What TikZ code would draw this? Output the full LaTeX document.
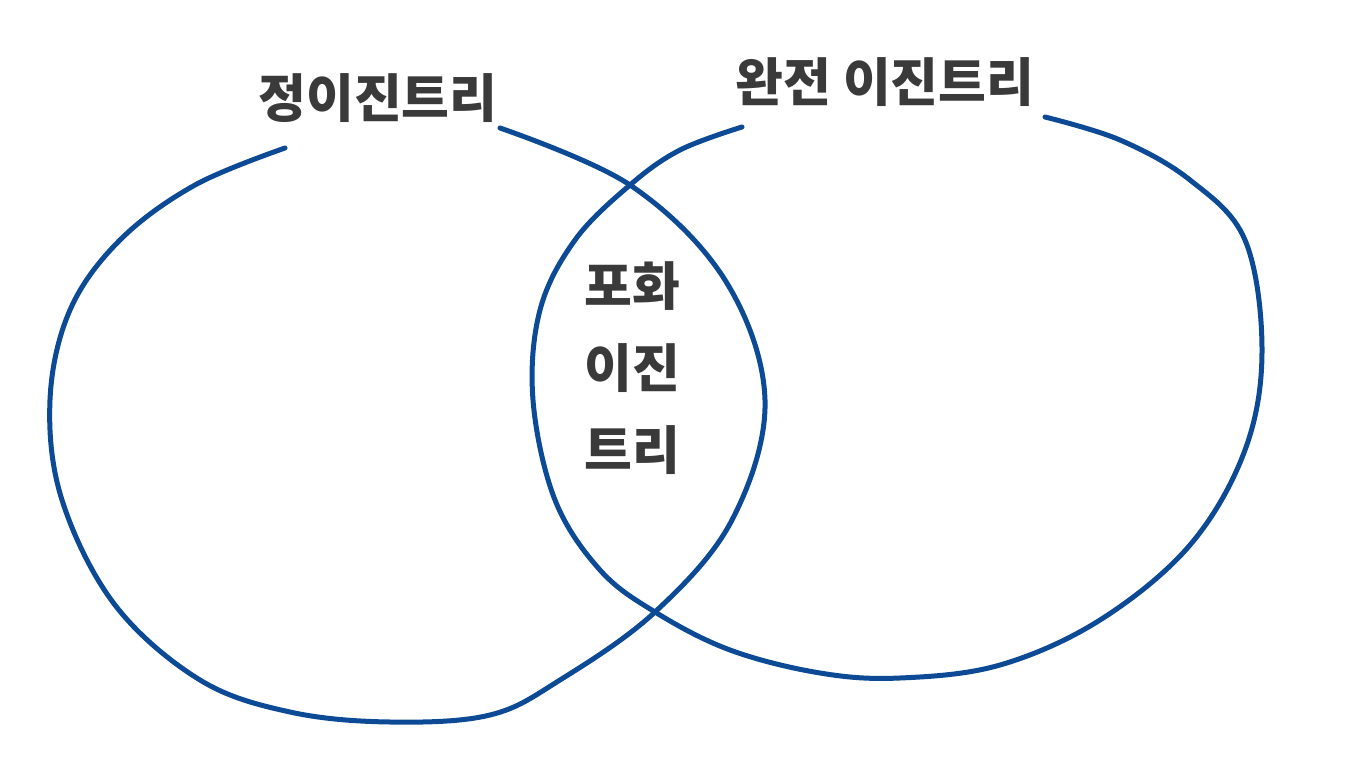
\documentclass[tikz,border=0pt]{standalone}
\usepackage{fontspec}
\newfontfamily\kr{Noto Sans CJK KR}
\definecolor{pen}{HTML}{0D4A96}
\definecolor{ink}{HTML}{3A3A3A}
\tikzset{
  loop/.style={draw=pen, line width=5pt, line cap=round, line join=round},
  lbl/.style={text=ink, font=\kr\bfseries\fontsize{52}{56}\selectfont, inner sep=0pt, align=center}
}
\begin{document}
\begin{tikzpicture}[x=1pt,y=-1pt]
\useasboundingbox[fill=white] (0,0) rectangle (1368,768);
\draw[loop] plot[smooth, tension=0.6] coordinates {(500,128) (630,185) (725,280) (765,400) (732,520) (655,612) (560,680) (490,715) (390,722) (290,712) (200,680) (115,605) (62,500) (50,400) (70,310) (120,240) (195,185) (285,148)};
\draw[loop] plot[smooth, tension=0.6] coordinates {(742,127) (680,150) (630,185) (575,240) (540,310) (533,400) (555,500) (600,570) (655,612) (730,650) (820,673) (900,678) (1000,665) (1100,620) (1190,545) (1245,450) (1262,350) (1245,240) (1190,180) (1120,140) (1045,117)};
\node[lbl] (left) at (378,98) {정이진트리};
\node[lbl] (right) at (885,82) {완전 이진트리};
\node[lbl, font=\kr\bfseries\fontsize{52}{82}\selectfont] (mid) at (632,368) {포화\\이진\\트리};
\end{tikzpicture}
\end{document}
